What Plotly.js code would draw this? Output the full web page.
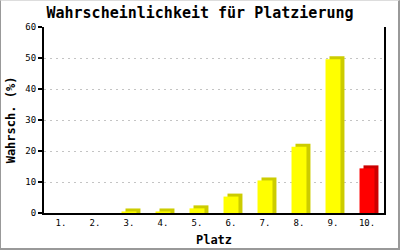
<!DOCTYPE html>
<html>
<head>
<meta charset="utf-8">
<script src="https://cdn.plot.ly/plotly-3.0.1.min.js"></script>
<style>
html,body{margin:0;padding:0;background:#fff;}
#wrap{width:400px;height:250px;box-sizing:border-box;border-left:1px solid #999;border-top:1px solid #ddd;border-right:2px solid #999;border-bottom:2px solid #999;overflow:hidden;position:relative;}
#chart{position:absolute;left:-1px;top:-1px;width:400px;height:250px;}
</style>
</head>
<body>
<div id="wrap"><div id="chart"></div></div>
<script>
const categories = ["1.","2.","3.","4.","5.","6.","7.","8.","9.","10."];
const probabilities = [0, 0, 0.5, 0.5, 1.5, 5.3, 10.5, 21.4, 49.6, 14.4];
const barColors = ["#ffff00","#ffff00","#ffff00","#ffff00","#ffff00","#ffff00","#ffff00","#ffff00","#ffff00","#ff0000"];
const shadowColors = ["#cccc00","#cccc00","#cccc00","#cccc00","#cccc00","#cccc00","#cccc00","#cccc00","#cccc00","#cc0000"];
const yTicks = [0,10,20,30,40,50,60];

const depthY = 0.96;   // 3px
const depthX = 0.117;  // 4px in category units
const w = 0.44;

const shadow = {
  type:'bar', x:categories,
  y:probabilities.map(v => v > 0 ? v + depthY : 0),
  width:w, offset:-w/2 + depthX,
  marker:{color:shadowColors, line:{width:0}},
  hoverinfo:'skip', showlegend:false
};
const front = {
  type:'bar', x:categories, y:probabilities,
  width:w, offset:-w/2,
  marker:{color:barColors, line:{width:0}},
  showlegend:false
};

const layout = {
  width:400, height:250,
  margin:{l:44, r:16, t:27, b:37},
  paper_bgcolor:'#fff', plot_bgcolor:'#fff',
  barmode:'overlay',
  font:{family:'DejaVu Sans Mono, monospace', color:'#000'},
  title:{text:'<b>Wahrscheinlichkeit für Platzierung</b>', font:{size:15, family:'DejaVu Sans Mono, monospace'}, x:0.5, xanchor:'center', y:0.95, yanchor:'middle'},
  xaxis:{
    type:'category', range:[-0.5, 9.5],
    showline:true, linecolor:'#000', linewidth:2,
    ticks:'', tickfont:{size:9}, showgrid:false, zeroline:false,
    title:{text:'<b>Platz</b>', font:{size:12}, standoff:9}
  },
  yaxis:{
    range:[0,60], tickvals:yTicks,
    showline:true, mirror:true, linecolor:'#000', linewidth:2,
    ticks:'outside', ticklen:4, tickcolor:'#000', tickwidth:2,
    tickfont:{size:9},
    showgrid:true, gridcolor:'#c4c4c4', griddash:'2px,4px', gridwidth:1,
    zeroline:false,
    title:{text:'<b>Wahrsch. (%)</b>', font:{size:12}, standoff:7}
  }
};

Plotly.newPlot('chart', [shadow, front], layout, {staticPlot:true, displayModeBar:false});
</script>
</body>
</html>
